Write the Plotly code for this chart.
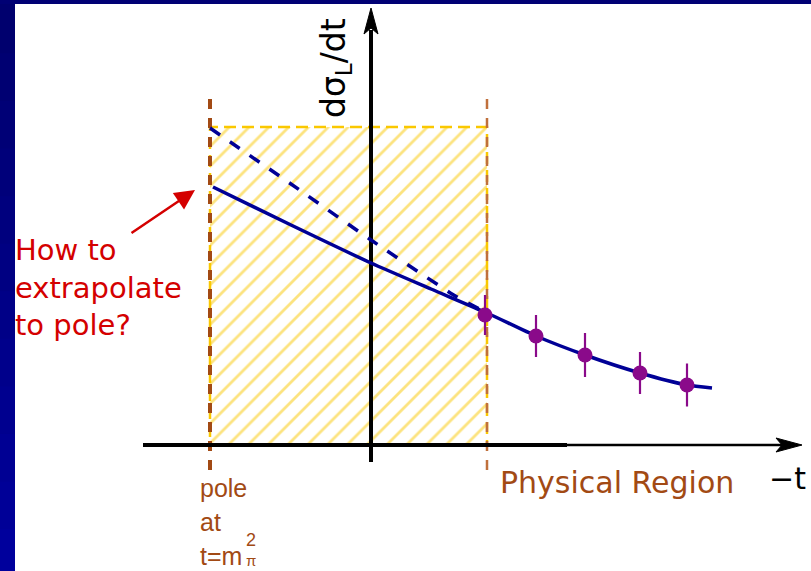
import plotly.graph_objects as go

# Kinematic landmarks along -t (arbitrary units; the vertical axis sits at -t = 0)
pole_t = -1.61          # t = m_pi^2
threshold_t = 1.16      # edge of the physical region
hatch_top = 3.18

# Measured cross sections in the physical region
data_t = [1.14, 1.65, 2.14, 2.69, 3.16]
data_sigma = [1.30, 1.09, 0.90, 0.72, 0.60]
data_err = [0.20, 0.21, 0.22, 0.21, 0.215]

# Two candidate extrapolations to the pole
fit_t = [-1.58, -0.80, 0.0, 0.60, 1.16, 1.65, 2.14, 2.69, 3.16, 3.41]
fit_sigma = [2.58, 2.20, 1.82, 1.56, 1.32, 1.09, 0.90, 0.72, 0.60, 0.57]
alt_t = [-1.61, -0.80, 0.0, 0.86, 1.16]
alt_sigma = [3.17, 2.61, 2.05, 1.48, 1.32]

X_RANGE = [-3.71, 4.40]
Y_RANGE = [-1.26, 4.45]
W, H = 811, 571
PX = (X_RANGE[1] - X_RANGE[0]) / W   # data units per pixel
PY = (Y_RANGE[1] - Y_RANGE[0]) / H

BROWN = "#a24a14"
RED = "#d40000"
NAVY = "#000096"
PURPLE = "#8a0a8a"
YELLOW = "#fac800"
FONT = "DejaVu Sans, Verdana, sans-serif"
SMALL = "Liberation Sans, Arial, sans-serif"

fig = go.Figure()

# hatched integration window between the pole and the physical threshold
fig.add_trace(go.Scatter(
    x=[pole_t, threshold_t, threshold_t, pole_t, pole_t],
    y=[0, 0, hatch_top, hatch_top, 0],
    mode="lines", fill="toself",
    fillcolor="rgba(255,255,255,0)",
    fillpattern=dict(shape="/", fgcolor=YELLOW, bgcolor="white",
                     size=14, solidity=0.2),
    line=dict(color=YELLOW, width=2.5, dash="12px,6px"),
    hoverinfo="skip", showlegend=False))

# brown dashed markers at the pole and at the threshold
for xt, w, c in [(pole_t, 4, BROWN), (threshold_t, 2.5, "#c0703c")]:
    fig.add_trace(go.Scatter(
        x=[xt, xt], y=[-0.25, 3.50], mode="lines",
        line=dict(color=c, width=w, dash="10px,9px"),
        hoverinfo="skip", showlegend=False))

# axes
ax_x0, ax_x1, ax_thick_end = -2.28, 4.22, 1.96
fig.add_trace(go.Scatter(x=[ax_x0, ax_thick_end], y=[0, 0], mode="lines",
                         line=dict(color="black", width=4),
                         hoverinfo="skip", showlegend=False))
fig.add_trace(go.Scatter(x=[ax_thick_end, ax_x1], y=[0, 0], mode="lines",
                         line=dict(color="black", width=2.5),
                         hoverinfo="skip", showlegend=False))
fig.add_trace(go.Scatter(x=[0, 0], y=[-0.17, 4.15], mode="lines",
                         line=dict(color="black", width=4),
                         hoverinfo="skip", showlegend=False))

# extrapolations
fig.add_trace(go.Scatter(x=fit_t, y=fit_sigma, mode="lines",
                         line=dict(color=NAVY, width=3.5, shape="spline", smoothing=0.6),
                         hoverinfo="skip", showlegend=False))
fig.add_trace(go.Scatter(x=alt_t, y=alt_sigma, mode="lines",
                         line=dict(color=NAVY, width=3.5, dash="12px,12px",
                                   shape="spline", smoothing=0.6),
                         hoverinfo="skip", showlegend=False))

# data with error bars
fig.add_trace(go.Scatter(
    x=data_t, y=data_sigma, mode="markers",
    marker=dict(color=PURPLE, size=15, line=dict(width=0)),
    error_y=dict(type="data", array=data_err, color=PURPLE, thickness=2.2, width=0),
    hoverinfo="skip", showlegend=False))

# arrowheads on the axes (sizes given in pixels)
def head(tip_x, tip_y, direction, length=26, half=7):
    if direction == "right":
        bx = tip_x - length * PX
        return (f"M {tip_x},{tip_y} L {bx},{tip_y + half * PY} "
                f"L {bx + 6 * PX},{tip_y} L {bx},{tip_y - half * PY} Z")
    by = tip_y - length * PY
    return (f"M {tip_x},{tip_y} L {tip_x + half * PX},{by} "
            f"L {tip_x},{by + 6 * PY} L {tip_x - half * PX},{by} Z")

fig.add_shape(type="path", path=head(4.31, 0, "right"), fillcolor="black",
              line=dict(color="black", width=1), layer="above")
fig.add_shape(type="path", path=head(0, 4.37, "up"), fillcolor="black",
              line=dict(color="black", width=1), layer="above")

# slide frame: dark blue strips on the left and the top
n = 12
for i in range(n):
    y0 = i / n
    shade = int(0x9c - (0x9c - 0x6e) * i / (n - 1))
    fig.add_shape(type="rect", xref="paper", yref="paper",
                  x0=0, x1=15 / W, y0=max(0, y0 - 0.01), y1=(i + 1) / n,
                  fillcolor=f"rgb(0,0,{shade})", line=dict(width=0), layer="above")
fig.add_shape(type="rect", xref="paper", yref="paper",
              x0=0, x1=1, y0=1 - 4 / H, y1=1,
              fillcolor="#000074", line=dict(width=0), layer="above")

# labels
fig.add_annotation(x=-0.36, y=3.77, text="dσ<sub>L</sub>/dt", textangle=-90,
                   showarrow=False, font=dict(family=FONT, size=33, color="black"))
fig.add_annotation(x=4.16, y=-0.33, text="−t", xanchor="center", showarrow=False,
                   font=dict(family=FONT, size=30, color="black"))
fig.add_annotation(x=1.27, y=-0.37, text="Physical Region", xanchor="left",
                   showarrow=False, font=dict(family=FONT, size=30, color=BROWN))
fig.add_annotation(x=-3.58, y=1.58, text="How to<br>extrapolate<br>to pole?",
                   xanchor="left", align="left", showarrow=False,
                   font=dict(family=FONT, size=29, color=RED))
fig.add_annotation(x=-1.73, y=-0.43, text="pole", xanchor="left", showarrow=False,
                   font=dict(family=SMALL, size=25, color=BROWN))
fig.add_annotation(x=-1.73, y=-0.77, text="at", xanchor="left", showarrow=False,
                   font=dict(family=SMALL, size=25, color=BROWN))
fig.add_annotation(x=-1.73, y=-1.11, text="t=m", xanchor="left", showarrow=False,
                   font=dict(family=SMALL, size=25, color=BROWN))
# stacked superscript / subscript of m
fig.add_annotation(x=-1.20, y=-1.06, text="2", xanchor="center", yanchor="bottom",
                   showarrow=False, borderpad=0,
                   font=dict(family=SMALL, size=18, color=BROWN))
fig.add_annotation(x=-1.20, y=-1.06, text="π", xanchor="center", yanchor="top",
                   showarrow=False, borderpad=0,
                   font=dict(family=SMALL, size=15, color=BROWN))

# red pointer towards the pole
fig.add_annotation(x=-1.76, y=2.55, ax=-2.41, ay=2.11, axref="x", ayref="y",
                   text="", showarrow=True, arrowhead=2, arrowsize=1.6,
                   arrowwidth=2.5, arrowcolor=RED)

fig.update_layout(
    width=W, height=H, margin=dict(l=0, r=0, t=0, b=0),
    paper_bgcolor="white", plot_bgcolor="white",
    xaxis=dict(range=X_RANGE, visible=False, fixedrange=True),
    yaxis=dict(range=Y_RANGE, visible=False, fixedrange=True),
    showlegend=False,
)

fig.write_html("out.html")
